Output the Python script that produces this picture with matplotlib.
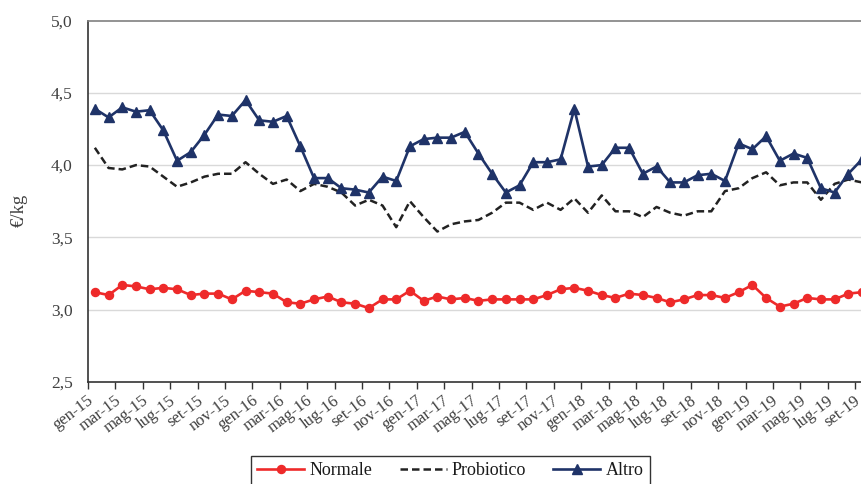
import matplotlib
matplotlib.use("Agg")
import matplotlib.pyplot as plt
from matplotlib.lines import Line2D
import matplotlib.transforms as mtransforms

months_it = ["gen", "feb", "mar", "apr", "mag", "giu", "lug", "ago", "set", "ott", "nov", "dic"]
categories = [f"{months_it[i % 12]}-{15 + i // 12}" for i in range(57)]

normale = [3.12, 3.10, 3.17, 3.16, 3.14, 3.15, 3.14, 3.10, 3.11, 3.11, 3.07, 3.13,
           3.12, 3.11, 3.05, 3.04, 3.07, 3.09, 3.05, 3.04, 3.01, 3.07, 3.07, 3.13,
           3.06, 3.09, 3.07, 3.08, 3.06, 3.07, 3.07, 3.07, 3.07, 3.10, 3.14, 3.15,
           3.13, 3.10, 3.08, 3.11, 3.10, 3.08, 3.05, 3.07, 3.10, 3.10, 3.08, 3.12,
           3.17, 3.08, 3.02, 3.04, 3.08, 3.07, 3.07, 3.11, 3.12]

probiotico = [4.12, 3.98, 3.97, 4.00, 3.99, 3.92, 3.85, 3.88, 3.92, 3.94, 3.94, 4.02,
              3.94, 3.87, 3.90, 3.82, 3.87, 3.85, 3.81, 3.72, 3.76, 3.72, 3.57, 3.75,
              3.64, 3.54, 3.59, 3.61, 3.62, 3.67, 3.74, 3.74, 3.69, 3.74, 3.69, 3.77,
              3.67, 3.79, 3.68, 3.68, 3.64, 3.71, 3.67, 3.65, 3.68, 3.68, 3.82, 3.84,
              3.91, 3.95, 3.86, 3.88, 3.88, 3.76, 3.87, 3.90, 3.88]

altro = [4.39, 4.33, 4.40, 4.37, 4.38, 4.24, 4.03, 4.09, 4.21, 4.35, 4.34, 4.45,
         4.31, 4.30, 4.34, 4.13, 3.91, 3.91, 3.84, 3.83, 3.81, 3.92, 3.89, 4.13,
         4.18, 4.19, 4.19, 4.23, 4.08, 3.94, 3.81, 3.86, 4.02, 4.02, 4.04, 4.39,
         3.99, 4.00, 4.12, 4.12, 3.94, 3.99, 3.88, 3.88, 3.93, 3.94, 3.89, 4.15,
         4.11, 4.20, 4.03, 4.08, 4.05, 3.84, 3.81, 3.94, 4.04]

yticks = [2.5, 3.0, 3.5, 4.0, 4.5, 5.0]
ytick_labels = ["2,5", "3,0", "3,5", "4,0", "4,5", "5,0"]

serif = ["Liberation Serif", "DejaVu Serif"]
plt.rcParams["font.family"] = serif

fig = plt.figure(figsize=(8.62, 4.84), dpi=100)
ax = fig.add_axes([88 / 862, 1 - 381.7 / 484, 1 - 88 / 862, (381.7 - 20.7) / 484])

x = list(range(len(categories)))
red = "#EE2A2A"
navy = "#1F3368"

ax.plot(x, normale, color=red, lw=1.9, marker="o", ms=5.8, mec=red, mfc=red, zorder=3)
ax.plot(x, probiotico, color="#222222", lw=1.8, linestyle=(0, (3, 1.6)), zorder=3)
ax.plot(x, altro, color=navy, lw=1.9, marker="^", ms=7.8, mec=navy, mfc=navy, zorder=4)

ax.set_xlim(-0.5, 56.0)
ax.set_ylim(2.5, 5.0)

ax.set_yticks(yticks)
ax.set_yticklabels(ytick_labels)
ax.tick_params(axis="y", length=0, pad=11, labelsize=12.5, labelcolor="#404040")
for yv in yticks[1:-1]:
    ax.axhline(yv, color="#D9D9D9", lw=1.0, zorder=1)

# tick marks between categories every 2 months, labels on categories
ax.set_xticks([i - 0.5 for i in range(0, 57, 2)])
ax.set_xticklabels([])
ax.tick_params(axis="x", which="major", length=5, width=1.0, color="#333333", direction="out")
ax.set_xticks(list(range(0, 57, 2)), minor=True)
ax.set_xticklabels([categories[i] for i in range(0, 57, 2)], minor=True,
                   rotation=37, ha="right", rotation_mode="anchor",
                   fontsize=12, color="#404040")
ax.tick_params(axis="x", which="minor", length=0, pad=8)
offset = mtransforms.ScaledTranslation(-8 / 100, 0, fig.dpi_scale_trans)
for lab in ax.xaxis.get_minorticklabels():
    lab.set_transform(lab.get_transform() + offset)

ax.spines["right"].set_visible(False)
ax.spines["top"].set_color("#808080")
ax.spines["top"].set_linewidth(1.2)
ax.spines["left"].set_color("#333333")
ax.spines["bottom"].set_color("#333333")
ax.spines["left"].set_linewidth(1.2)
ax.spines["bottom"].set_linewidth(1.2)

fig.text(19 / 862, 1 - 210 / 484, "€/kg", rotation=90, ha="center", va="center",
         fontsize=13.5, color="#404040")

handles = [
    Line2D([], [], color=red, lw=1.9, marker="o", ms=5.8, mec=red, mfc=red),
    Line2D([], [], color="#222222", lw=1.8, linestyle=(0, (3, 1.6))),
    Line2D([], [], color=navy, lw=1.9, marker="^", ms=7.8, mec=navy, mfc=navy),
]
leg = fig.legend(handles, ["Normale", "Probiotico", "Altro"], loc="upper left",
                 bbox_to_anchor=(251 / 862, 1 - 456 / 484), borderaxespad=0,
                 ncol=3, frameon=True, fancybox=False, edgecolor="black",
                 fontsize=13, handlelength=2.6, columnspacing=1.5, handletextpad=0.3,
                 borderpad=0.35)
leg.get_frame().set_linewidth(1.0)
for t in leg.get_texts():
    t.set_color("#1a1a1a")

fig.savefig("out.png", dpi=100)
